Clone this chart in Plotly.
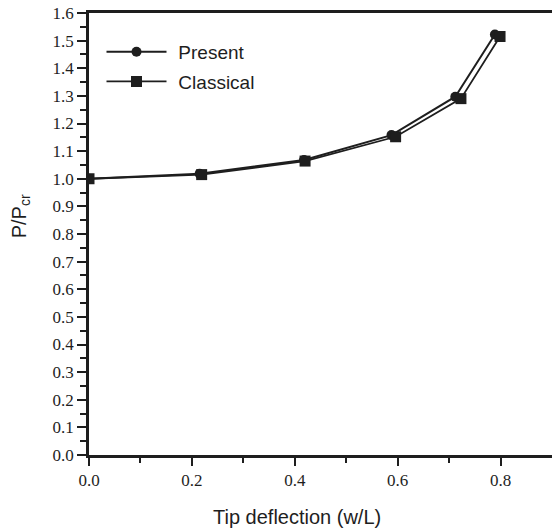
import plotly.graph_objects as go

# Load ratio P/Pcr against non-dimensional tip deflection w/L
present_x = [0.0, 0.215, 0.418, 0.588, 0.712, 0.789]
present_y = [1.000, 1.018, 1.068, 1.158, 1.297, 1.522]

classical_x = [0.0, 0.219, 0.420, 0.596, 0.723, 0.799]
classical_y = [1.000, 1.015, 1.064, 1.152, 1.290, 1.515]

x_ticks = [0.0, 0.2, 0.4, 0.6, 0.8]
x_minor = [0.1, 0.3, 0.5, 0.7]
y_ticks = [round(i * 0.1, 1) for i in range(17)]

serif = "Liberation Serif"
sans = "Liberation Sans"
ink = "#1e1e1e"
GAP = "\u00a0\u200a"

fig = go.Figure()
fig.add_trace(go.Scatter(
    x=present_x, y=present_y, name=GAP + "Present", mode="lines+markers",
    legendgroup="present",
    line=dict(color=ink, width=2),
    marker=dict(symbol="circle", size=10, color=ink),
))
fig.add_trace(go.Scatter(
    x=classical_x, y=classical_y, name=GAP + "Classical", mode="lines+markers",
    legendgroup="classical",
    line=dict(color=ink, width=1.8),
    marker=dict(symbol="square", size=11, color=ink),
))

axis_common = dict(
    ticks="outside", tickwidth=2, tickcolor=ink,
    showline=True, linecolor=ink, linewidth=2.5,
    showgrid=False, zeroline=False,
    tickfont=dict(family=serif, size=17, color=ink),
)

fig.update_layout(
    width=552, height=530,
    margin=dict(l=89, r=0, t=13, b=75),
    paper_bgcolor="white", plot_bgcolor="white",
    showlegend=True,
    legend=dict(
        x=0.027, y=0.955, xanchor="left", yanchor="top",
        font=dict(family=sans, size=19, color=ink),
        bgcolor="rgba(0,0,0,0)", itemwidth=60, tracegroupgap=2,
    ),
    xaxis=dict(
        axis_common, range=[0, 0.9], tickvals=x_ticks,
        ticktext=[f"{v:.1f}" for v in x_ticks], ticklen=8,
        minor=dict(tickvals=x_minor, ticks="outside", ticklen=5, tickwidth=2, tickcolor=ink),
        mirror=True,
    ),
    yaxis=dict(
        axis_common, range=[0, 1.6], tickvals=y_ticks,
        ticktext=[f"{v:.1f}" for v in y_ticks], ticklen=9,
        minor=dict(dtick=0.05, ticks="outside", ticklen=6, tickwidth=2, tickcolor=ink),
        mirror=False,
    ),
    annotations=[
        dict(text="Tip deflection (w/L)", xref="paper", yref="paper",
             x=0.449, y=-0.14, xanchor="center", yanchor="middle",
             showarrow=False, font=dict(family=sans, size=20, color=ink)),
        dict(text="P/P<sub>cr</sub>", xref="paper", yref="paper",
             x=-0.149, y=0.54, xanchor="center", yanchor="middle",
             textangle=-90, showarrow=False,
             font=dict(family=sans, size=20, color=ink)),
    ],
)

fig.write_html("out.html")
